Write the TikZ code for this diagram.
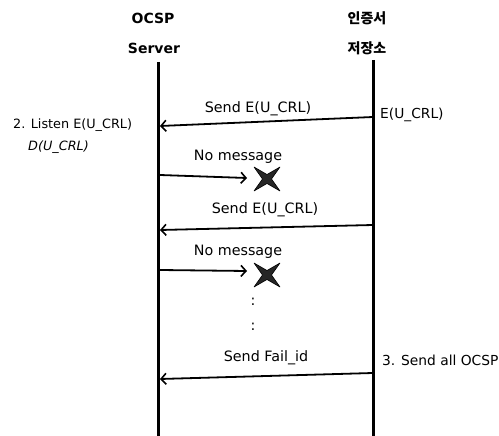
\documentclass[tikz,border=0pt]{standalone}
\usepackage{fontspec}
\setmainfont{DejaVu Sans}
\newfontfamily\krfont{Noto Sans CJK KR}
\usetikzlibrary{arrows.meta}
\tikzset{
  life/.style={line width=3pt},
  msg/.style={line width=1.8pt,-{Straight Barb[length=5pt,width=11pt,line width=1.6pt]}},
  lbl/.style={font=\fontsize{14.3}{16}\selectfont, inner sep=0pt},
  rlbl/.style={font=\fontsize{13.8}{16}\selectfont, inner sep=0pt},
  slbl/.style={font=\fontsize{12.8}{15}\selectfont, inner sep=0pt},
  hdr/.style={font=\bfseries\fontsize{14}{16}\selectfont, inner sep=0pt},
  khdr/.style={font=\krfont\bfseries\fontsize{14}{16}\selectfont, inner sep=0pt},
  lost/.style={fill=black!85, draw=black, line width=0.6pt, line join=round}
}
\begin{document}
\begin{tikzpicture}[x=1pt,y=-1pt]
\useasboundingbox (0,0) rectangle (499,436);
% headers
\node[hdr] (h1) at (153,18) {OCSP};
\node[hdr] (h2) at (154,48) {Server};
\node[khdr] (h3) at (367,18) {인증서};
\node[khdr] (h4) at (367,48) {저장소};
% lifelines
\coordinate (Ltop) at (158,62);
\coordinate (Lbot) at (158,436);
\coordinate (Rtop) at (373,60);
\coordinate (Rbot) at (373,436);
\draw[life] (Ltop) -- (Lbot);
\draw[life] (Rtop) -- (Rbot);
% message 1
\coordinate (r1) at (373,117);
\coordinate (l1) at (160,126);
\draw[msg] (r1) -- (l1);
\node[lbl] (t1) at (258,109) {Send E(U\_CRL)};
\node[rlbl,anchor=west] (t1r) at (380,115) {E(U\_CRL)};
\node[slbl,anchor=west] (t2l) at (13,125) {2. Listen E(U\_CRL)};
\node[slbl,anchor=west] (t2d) at (28,147) {\itshape D(U\_CRL)};
% lost message 1
\node[lbl] (n1) at (238,157) {No message};
\coordinate (s1) at (160,175);
\coordinate (e1) at (247,178);
\draw[msg] (s1) -- (e1);
\node (x1) at (267,179) {};
\fill[lost] ([shift={(-13,-12)}]x1.center) -- ([shift={(0,-4.5)}]x1.center) -- ([shift={(13,-12)}]x1.center) -- ([shift={(4.5,0)}]x1.center) -- ([shift={(13,12)}]x1.center) -- ([shift={(0,4.5)}]x1.center) -- ([shift={(-13,12)}]x1.center) -- ([shift={(-4.5,0)}]x1.center) -- cycle;
% message 2
\node[lbl] (t3) at (265,210) {Send E(U\_CRL)};
\coordinate (r2) at (373,225);
\coordinate (l2) at (160,230);
\draw[msg] (r2) -- (l2);
% lost message 2
\node[lbl] (n2) at (238,252) {No message};
\coordinate (s2) at (160,270);
\coordinate (e2) at (247,271);
\draw[msg] (s2) -- (e2);
\node (x2) at (267,275) {};
\fill[lost] ([shift={(-13,-12)}]x2.center) -- ([shift={(0,-4.5)}]x2.center) -- ([shift={(13,-12)}]x2.center) -- ([shift={(4.5,0)}]x2.center) -- ([shift={(13,12)}]x2.center) -- ([shift={(0,4.5)}]x2.center) -- ([shift={(-13,12)}]x2.center) -- ([shift={(-4.5,0)}]x2.center) -- cycle;
% dots
\node[lbl] (d1) at (253,302) {:};
\node[lbl] (d2) at (253,327) {:};
% message 3
\node[lbl] (t4) at (266,358) {Send Fail\_id};
\coordinate (r3) at (373,373);
\coordinate (l3) at (160,379);
\draw[msg] (r3) -- (l3);
\node[rlbl,anchor=west] (t5) at (382,360) {3. Send all OCSP};
\end{tikzpicture}
\end{document}
